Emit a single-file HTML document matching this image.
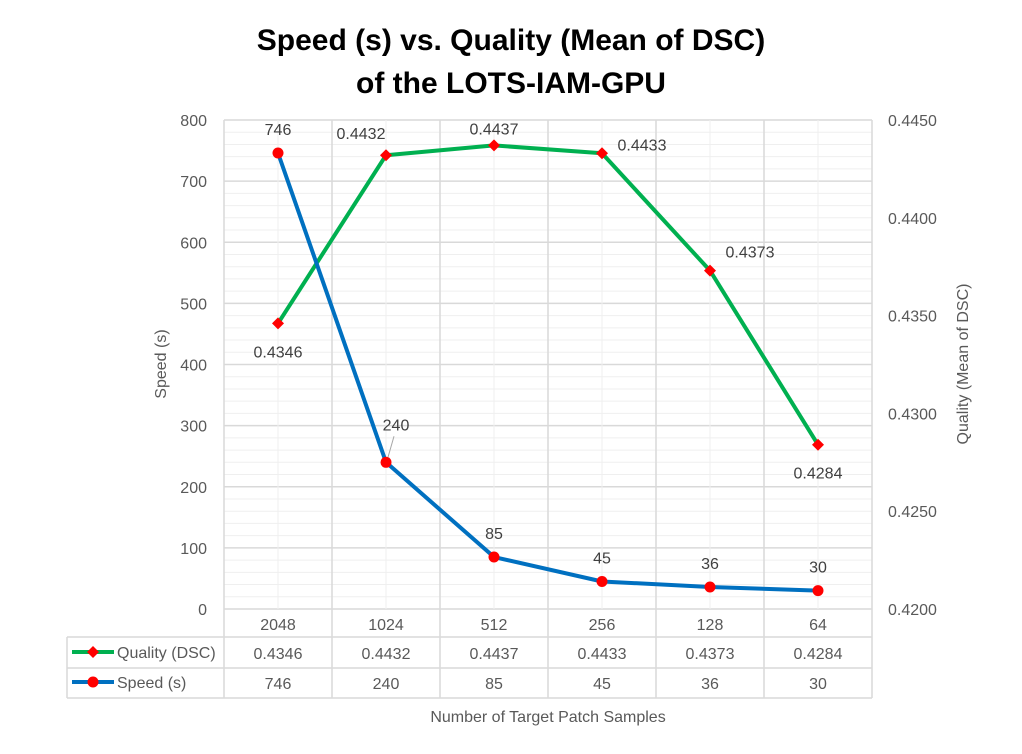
<!DOCTYPE html>
<html><head><meta charset="utf-8"><style>
body{margin:0;background:#fff;font-family:"Liberation Sans",sans-serif}
svg text{font-family:"Liberation Sans",sans-serif}
</style></head><body>
<svg id="c" width="1022" height="749" xmlns="http://www.w3.org/2000/svg">
<text x="511" y="50" text-anchor="middle" font-size="30" font-weight="bold" fill="#000">Speed (s) vs. Quality (Mean of DSC)</text>
<text x="511" y="93" text-anchor="middle" font-size="30" font-weight="bold" fill="#000">of the LOTS-IAM-GPU</text>
<g id="grid"></g><g id="table"></g><g id="series"></g>
<text transform="translate(166,364) rotate(-90)" text-anchor="middle" font-size="16" fill="#595959">Speed (s)</text>
<text transform="translate(968,364) rotate(-90)" text-anchor="middle" font-size="16" fill="#595959">Quality (Mean of DSC)</text>
<text x="548" y="722" text-anchor="middle" font-size="16" fill="#595959">Number of Target Patch Samples</text>
</svg>
<script>
const categories=["2048","1024","512","256","128","64"];
const speed=[746,240,85,45,36,30];
const quality=[0.4346,0.4432,0.4437,0.4433,0.4373,0.4284];
const leftTicks=[0,100,200,300,400,500,600,700,800];
const rightTicks=[0.42,0.425,0.43,0.435,0.44,0.445];
const NS="http://www.w3.org/2000/svg";
const L=224,R=872,T=120,B=609,cw=(R-L)/categories.length;
const xs=i=>L+cw*(i+0.5);
const yL=v=>B-(v/800)*(B-T);
const yR=v=>B-((v-0.42)/0.025)*(B-T);
function mk(p,tag,a){const e=document.createElementNS(NS,tag);for(const k in a)e.setAttribute(k,a[k]);p.appendChild(e);return e;}
const g=document.getElementById('grid'),tb=document.getElementById('table'),s=document.getElementById('series');
for(let v=0;v<=800;v+=20){const l=mk(g,'line',{x1:L,x2:R,y1:yL(v),y2:yL(v),stroke:v%100==0?'#d9d9d9':'#efefef','stroke-width':v%100==0?1.5:1});
}
categories.forEach((c,i)=>{const l=mk(g,'line',{x1:xs(i),x2:xs(i),y1:T,y2:B,stroke:'#efefef'});});
for(let i=0;i<=categories.length;i++){const x=L+cw*i;const l=mk(g,'line',{x1:x,x2:x,y1:T,y2:698,stroke:'#d9d9d9','stroke-width':1.5});}
leftTicks.forEach(v=>{const t=mk(g,'text',{x:207,y:yL(v)+6,'text-anchor':'end','font-size':16,fill:'#595959'});t.textContent=v;});
rightTicks.forEach(v=>{const t=mk(g,'text',{x:888,y:yR(v)+6,'font-size':16,fill:'#595959'});t.textContent=v.toFixed(4);});
[[67,637],[67,668],[67,698]].forEach(([x,y])=>{const l=mk(tb,'line',{x1:x,x2:R,y1:y,y2:y,stroke:'#d9d9d9','stroke-width':1.5});});
{const l=mk(tb,'line',{x1:67,x2:67,y1:637,y2:698,stroke:'#d9d9d9','stroke-width':1.5});}
categories.forEach((c,i)=>{
 let t=mk(tb,'text',{x:xs(i),y:630,'text-anchor':'middle','font-size':16,fill:'#595959'});t.textContent=c;
 t=mk(tb,'text',{x:xs(i),y:659,'text-anchor':'middle','font-size':16,fill:'#595959'});t.textContent=quality[i].toFixed(4);
 t=mk(tb,'text',{x:xs(i),y:689,'text-anchor':'middle','font-size':16,fill:'#595959'});t.textContent=speed[i];
});
// legend keys
{let l=mk(tb,'line',{x1:72,x2:114,y1:652,y2:652,stroke:'#00b050','stroke-width':4});
 let d=mk(tb,'path',{d:'M93,646 L99,652 L93,658 L87,652Z',fill:'#ff0000'});
 let t=mk(tb,'text',{x:117,y:658,'font-size':16,fill:'#595959'});t.textContent='Quality (DSC)';
 l=mk(tb,'line',{x1:72,x2:114,y1:682,y2:682,stroke:'#0070c0','stroke-width':4});
 d=mk(tb,'circle',{cx:93,cy:682,r:5.5,fill:'#ff0000'});
 t=mk(tb,'text',{x:117,y:688,'font-size':16,fill:'#595959'});t.textContent='Speed (s)';}
// series lines
let p=mk(s,'polyline',{points:quality.map((v,i)=>xs(i)+','+yR(v)).join(' '),fill:'none',stroke:'#00b050','stroke-width':4,'stroke-linejoin':'round'});
p=mk(s,'polyline',{points:speed.map((v,i)=>xs(i)+','+yL(v)).join(' '),fill:'none',stroke:'#0070c0','stroke-width':4,'stroke-linejoin':'round'});
const qOff=[[0,34],[-25,-16],[0,-11],[40,-3],[40,-13],[0,34]];
const sOff=[[0,-18],[10,-32],[0,-18],[0,-18],[0,-18],[0,-18]];
quality.forEach((v,i)=>{const x=xs(i),y=yR(v);
 const m=mk(s,'path',{d:`M${x},${y-6} L${x+6},${y} L${x},${y+6} L${x-6},${y}Z`,fill:'#ff0000'});
 const t=mk(s,'text',{x:x+qOff[i][0],y:y+qOff[i][1],'text-anchor':'middle','font-size':16,fill:'#404040'});t.textContent=v.toFixed(4);});
speed.forEach((v,i)=>{const x=xs(i),y=yL(v);
 const m=mk(s,'circle',{cx:x,cy:y,r:5.5,fill:'#ff0000'});
 const t=mk(s,'text',{x:x+sOff[i][0],y:y+sOff[i][1],'text-anchor':'middle','font-size':16,fill:'#404040'});t.textContent=v;
 if(i==1){const l=mk(s,'line',{x1:x+2,y1:y-5,x2:x+8,y2:y-26,stroke:'#a6a6a6'});}});
</script>
</body></html>
